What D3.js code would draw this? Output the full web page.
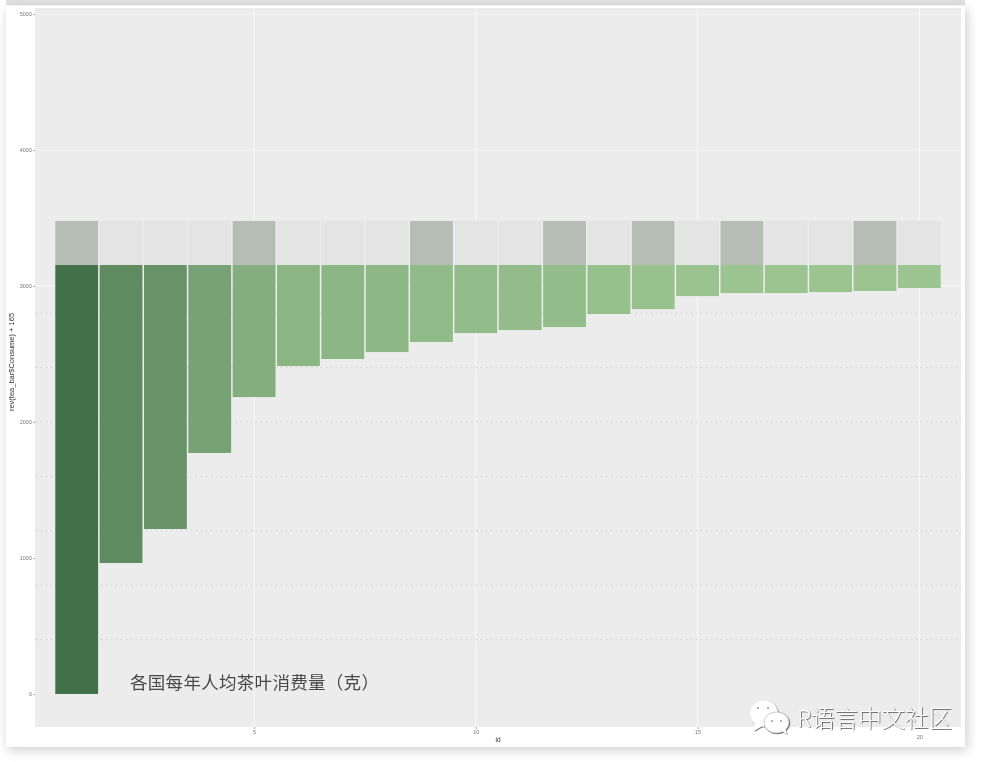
<!DOCTYPE html>
<html>
<head>
<meta charset="utf-8">
<script src="https://cdn.jsdelivr.net/npm/d3@7"></script>
<style>
  html, body { margin: 0; padding: 0; background: #fff; }
  svg { display: block; }
</style>
</head>
<body>
<div id="chart"></div>
<script>
// values
var ids = [1, 2, 3, 4, 5, 6, 7, 8, 9, 10, 11, 12, 13, 14, 15, 16, 17, 18, 19, 20];
var consume = [3154, 2191, 1941, 1382, 971, 743, 691, 640, 566, 500, 478, 456, 360, 324, 228, 206, 206, 199, 191, 169];
var darkIds = [1, 5, 9, 12, 14, 16, 19];
var barTop = 3154;
var capTop = 3478;
var xTicks = [5, 10, 15, 20];
var yTicks = [0, 1000, 2000, 3000, 4000, 5000];
var solidGrid = [3000, 4000, 5000];
var dottedGrid = [400, 800, 1200, 1600, 2000, 2400, 2800];
var title = "各国每年人均茶叶消费量（克）";
var watermark = "R语言中文社区";

var width = 986, height = 762;
var panel = { left: 35, right: 961, top: 8, bottom: 727 };

var svg = d3.select("#chart").append("svg")
    .attr("width", width)
    .attr("height", height);

var defs = svg.append("defs");

var shadow = defs.append("filter").attr("id", "shadow")
    .attr("x", "-5%").attr("y", "-5%").attr("width", "110%").attr("height", "110%");
shadow.append("feDropShadow")
    .attr("dx", 2).attr("dy", 3).attr("stdDeviation", 6)
    .attr("flood-color", "#000").attr("flood-opacity", 0.2);

var soft = defs.append("filter").attr("id", "soft");
soft.append("feGaussianBlur").attr("stdDeviation", 0.55);

var emboss = defs.append("filter").attr("id", "emboss")
    .attr("x", "-10%").attr("y", "-20%").attr("width", "120%").attr("height", "140%");
emboss.append("feDropShadow")
    .attr("dx", 0.7).attr("dy", 0.7).attr("stdDeviation", 0.25)
    .attr("flood-color", "#333").attr("flood-opacity", 0.9);

// grey strip of the next card, top of the screenshot
svg.append("rect")
    .attr("x", 6).attr("y", 0)
    .attr("width", 959).attr("height", 5)
    .attr("fill", "#e2e2e2");

// the card
svg.append("rect")
    .attr("x", 6).attr("y", 6)
    .attr("width", 959).attr("height", 741)
    .attr("fill", "#fff")
    .attr("filter", "url(#shadow)");

var plot = svg.append("g").attr("filter", "url(#soft)");

var x = d3.scaleLinear().domain([0.06, 20.94]).range([panel.left, panel.right]);
var y = d3.scaleLinear().domain([-243, 5044]).range([panel.bottom, panel.top]);

var fill = d3.scaleLinear()
    .domain([169, 3154])
    .range(["#9cc591", "#42704a"]);

var barWidth = (x(2) - x(1)) * 0.965;

plot.append("rect")
    .attr("x", panel.left).attr("y", panel.top)
    .attr("width", panel.right - panel.left)
    .attr("height", panel.bottom - panel.top)
    .attr("fill", "#ececec");

// gridlines
plot.selectAll(".grid-x").data(xTicks).enter().append("line")
    .attr("class", "grid-x")
    .attr("x1", function(d) { return x(d); })
    .attr("x2", function(d) { return x(d); })
    .attr("y1", panel.top)
    .attr("y2", panel.bottom)
    .attr("stroke", "#f7f7f7")
    .attr("stroke-width", 1.2);

plot.selectAll(".grid-y").data(solidGrid).enter().append("line")
    .attr("class", "grid-y")
    .attr("x1", panel.left)
    .attr("x2", panel.right)
    .attr("y1", function(d) { return y(d); })
    .attr("y2", function(d) { return y(d); })
    .attr("stroke", "#f6f6f6")
    .attr("stroke-width", 1.2);

plot.selectAll(".grid-light").data(dottedGrid).enter().append("line")
    .attr("class", "grid-light")
    .attr("x1", panel.left)
    .attr("x2", panel.right)
    .attr("y1", function(d) { return y(d); })
    .attr("y2", function(d) { return y(d); })
    .attr("stroke", "#f4f4f4")
    .attr("stroke-width", 1);

plot.selectAll(".grid-dots").data(dottedGrid).enter().append("line")
    .attr("class", "grid-dots")
    .attr("x1", panel.left)
    .attr("x2", panel.right)
    .attr("y1", function(d) { return y(d); })
    .attr("y2", function(d) { return y(d); })
    .attr("stroke", "#d4d4d4")
    .attr("stroke-width", 0.8)
    .attr("stroke-dasharray", "3 2");

// grey caps above the bars
plot.selectAll(".cap").data(ids).enter().append("rect")
    .attr("class", "cap")
    .attr("x", function(d) { return x(d) - barWidth / 2; })
    .attr("y", y(capTop))
    .attr("width", barWidth)
    .attr("height", y(barTop) - y(capTop))
    .attr("fill", function(d) { return darkIds.indexOf(d) >= 0 ? "#b6bdb5" : "#e4e4e4"; });

// bars hang down from barTop
plot.selectAll(".bar").data(ids).enter().append("rect")
    .attr("class", "bar")
    .attr("x", function(d) { return x(d) - barWidth / 2; })
    .attr("y", y(barTop))
    .attr("width", barWidth)
    .attr("height", function(d, i) { return y(barTop - consume[i]) - y(barTop); })
    .attr("fill", function(d, i) { return fill(consume[i]); });

// axes
var yAxis = d3.axisLeft(y).tickValues(yTicks).tickFormat(d3.format("d")).tickSize(2).tickPadding(1);
var xAxis = d3.axisBottom(x).tickValues(xTicks).tickFormat(d3.format("d")).tickSize(2).tickPadding(1);

var yG = plot.append("g")
    .attr("transform", "translate(" + panel.left + ",0)")
    .call(yAxis);
var xG = plot.append("g")
    .attr("transform", "translate(0," + panel.bottom + ")")
    .call(xAxis);

[yG, xG].forEach(function(g) {
    g.select(".domain").remove();
    g.selectAll("line").attr("stroke", "#aaa");
    g.selectAll("text")
        .attr("fill", "#777")
        .attr("font-family", "Liberation Sans")
        .attr("font-size", 5.5);
});

// the last label sits just under the watermark
xG.selectAll("text")
    .filter(function(d) { return d === 20; })
    .attr("y", 8);

plot.append("text")
    .attr("transform", "translate(14,362) rotate(-90)")
    .attr("text-anchor", "middle")
    .attr("font-family", "Liberation Sans")
    .attr("font-size", 7.5)
    .attr("fill", "#333")
    .text("rev(tea_bar$Consume) + 165");

plot.append("text")
    .attr("x", 498)
    .attr("y", 742)
    .attr("text-anchor", "middle")
    .attr("font-family", "Liberation Sans")
    .attr("font-size", 6.5)
    .attr("fill", "#333")
    .text("id");

// title inside the panel
plot.append("text")
    .attr("x", 130)
    .attr("y", 689)
    .attr("font-family", "Noto Sans CJK SC")
    .attr("font-size", 17.5)
    .attr("letter-spacing", 0.3)
    .attr("fill", "#4a4a4a")
    .text(title);

// watermark
var mark = svg.append("g").attr("filter", "url(#emboss)");

mark.append("ellipse")
    .attr("cx", 764).attr("cy", 713.5)
    .attr("rx", 14).attr("ry", 13)
    .attr("fill", "#fff");
mark.append("path")
    .attr("d", "M755,722 L754,731 L764,725 Z")
    .attr("fill", "#fff");
mark.append("ellipse")
    .attr("cx", 776.5).attr("cy", 722.5)
    .attr("rx", 12.5).attr("ry", 10.5)
    .attr("fill", "#fff")
    .attr("stroke", "#999")
    .attr("stroke-width", 0.5);
mark.append("path")
    .attr("d", "M782,731 L787,734 L785,728 Z")
    .attr("fill", "#fff");

[[758, 708], [768, 708], [772, 721], [781, 721]].forEach(function(p) {
    mark.append("circle")
        .attr("cx", p[0]).attr("cy", p[1])
        .attr("r", 1)
        .attr("fill", "#999");
});

svg.append("text")
    .attr("x", 797)
    .attr("y", 727)
    .attr("font-family", "Noto Sans CJK SC")
    .attr("font-size", 23.5)
    .attr("font-weight", 300)
    .attr("fill", "#fff")
    .attr("filter", "url(#emboss)")
    .text(watermark);
</script>
</body>
</html>
